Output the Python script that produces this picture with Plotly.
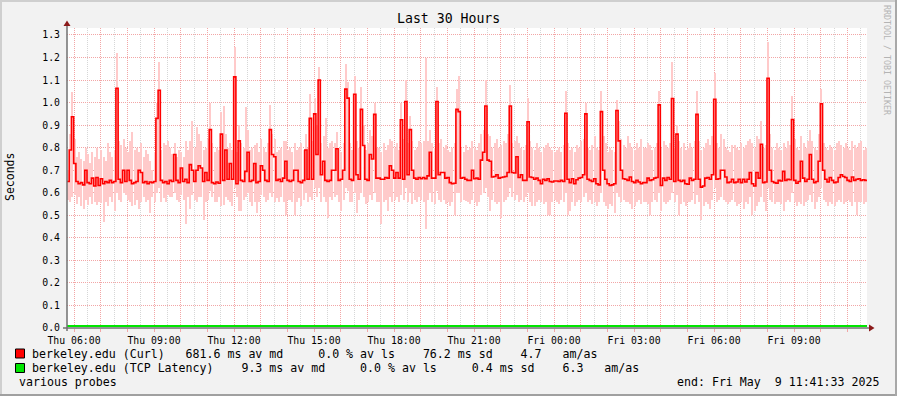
import pandas as pd
import plotly.graph_objects as go

# ---------------- data ----------------
start_time = "2025-05-08 05:44:15"
span_hours = 30
step = "5min"

# berkeley.edu (Curl) median, ms  (5-minute steps)
curl_median_ms = [
    650, 790, 937, 730, 650, 640, 645, 635, 700, 645, 640, 665, 630, 668, 632, 662, 640, 650, 645, 655,
    645, 650, 1063, 660, 645, 700, 650, 700, 655, 640, 645, 650, 700, 690, 645, 650, 640, 648, 645, 650,
    930, 1055, 655, 645, 650, 640, 655, 650, 770, 655, 645, 710, 650, 660, 645, 725, 700, 650, 700, 720,
    710, 650, 690, 655, 880, 645, 640, 648, 642, 860, 655, 790, 660, 730, 660, 1114, 640, 830, 655, 650,
    695, 780, 650, 655, 730, 645, 650, 720, 700, 655, 650, 880, 770, 760, 655, 660, 650, 665, 740, 655,
    650, 655, 700, 700, 650, 645, 655, 790, 660, 930, 660, 950, 770, 1100, 680, 740, 655, 650, 655, 700,
    700, 795, 655, 660, 700, 1060, 1020, 660, 655, 1037, 680, 660, 970, 810, 660, 655, 770, 750, 948, 665,
    665, 660, 660, 668, 665, 720, 700, 665, 690, 665, 924, 660, 1005, 680, 880, 700, 665, 660, 668, 662,
    668, 662, 675, 780, 665, 665, 1005, 680, 690, 690, 665, 668, 645, 640, 642, 970, 960, 665, 668, 660,
    655, 655, 700, 662, 665, 660, 745, 780, 985, 745, 740, 670, 672, 680, 665, 668, 670, 672, 690, 985,
    690, 688, 760, 668, 680, 655, 655, 915, 670, 668, 660, 665, 655, 640, 660, 655, 662, 650, 648, 652,
    652, 650, 655, 650, 953, 660, 645, 662, 640, 658, 665, 668, 680, 950, 660, 655, 650, 662, 640, 635,
    960, 700, 660, 640, 632, 635, 640, 965, 830, 700, 662, 660, 655, 670, 650, 645, 655, 648, 640, 645,
    645, 665, 655, 658, 665, 668, 990, 632, 665, 655, 668, 660, 1018, 650, 860, 655, 650, 655, 640, 638,
    665, 655, 660, 948, 660, 625, 630, 665, 668, 660, 680, 1015, 660, 662, 700, 700, 670, 645, 648, 660,
    645, 648, 660, 645, 660, 648, 660, 690, 640, 630, 690, 665, 815, 645, 648, 1108, 700, 650, 645, 642,
    655, 652, 695, 655, 660, 658, 925, 655, 642, 650, 740, 665, 650, 660, 770, 660, 645, 650, 740, 995,
    700, 660, 648, 668, 655, 645, 648, 668, 680, 672, 668, 655, 650, 670, 655, 660, 662, 655, 658, 655,
]

# smoke band (upper / lower edge), ms
curl_hi_ms = [
    700, 860, 1045, 840, 760, 780, 750, 740, 800, 770, 730, 780, 760, 800, 750, 790, 760, 740, 820, 780,
    760, 790, 1220, 830, 810, 840, 800, 780, 830, 870, 790, 800, 780, 820, 760, 790, 770, 740, 700, 780,
    1000, 1180, 790, 820, 810, 830, 800, 770, 820, 760, 790, 780, 760, 830, 790, 830, 920, 800, 890, 860,
    830, 790, 800, 840, 1000, 820, 780, 800, 790, 960, 985, 860, 800, 820, 790, 1245, 780, 900, 820, 800,
    980, 880, 790, 800, 810, 820, 780, 840, 800, 780, 820, 990, 860, 840, 780, 790, 800, 830, 830, 790,
    800, 780, 820, 790, 800, 820, 790, 860, 800, 1040, 830, 1020, 900, 1160, 820, 850, 930, 800, 820, 830,
    820, 870, 800, 780, 820, 1170, 1090, 820, 790, 1120, 830, 800, 1070, 900, 790, 820, 880, 850, 1000, 800,
    800, 780, 820, 790, 810, 840, 830, 800, 820, 790, 1000, 840, 1100, 820, 940, 830, 790, 800, 830, 820,
    830, 1200, 830, 880, 820, 800, 1070, 820, 840, 800, 810, 790, 780, 800, 820, 1060, 1120, 800, 780, 810,
    790, 800, 830, 800, 790, 820, 860, 880, 1100, 860, 850, 800, 820, 840, 800, 810, 830, 820, 860, 1080,
    820, 830, 850, 820, 800, 790, 810, 1020, 830, 800, 790, 820, 800, 780, 800, 810, 820, 800, 790, 780,
    790, 800, 780, 810, 1050, 820, 790, 800, 780, 810, 800, 830, 840, 1000, 800, 790, 810, 850, 800, 790,
    1050, 850, 820, 780, 800, 790, 780, 1010, 920, 840, 810, 800, 850, 820, 800, 790, 820, 800, 840, 800,
    800, 820, 810, 790, 800, 820, 1050, 800, 830, 810, 800, 820, 1180, 800, 900, 830, 800, 820, 790, 800,
    820, 800, 830, 1050, 830, 790, 800, 820, 840, 810, 850, 1130, 820, 800, 860, 840, 800, 790, 780, 810,
    810, 800, 790, 820, 800, 810, 830, 840, 820, 800, 850, 840, 920, 800, 810, 1268, 860, 800, 790, 820,
    800, 790, 820, 800, 830, 810, 1030, 840, 800, 790, 850, 820, 800, 830, 880, 830, 800, 790, 860, 1060,
    820, 800, 790, 810, 800, 790, 820, 830, 810, 800, 820, 800, 790, 830, 810, 800, 820, 830, 790, 800,
]
curl_lo_ms = [
    570, 560, 580, 590, 550, 580, 540, 530, 570, 545, 580, 550, 560, 545, 560, 555, 470, 560, 540, 580,
    560, 520, 600, 570, 560, 600, 590, 570, 560, 540, 545, 570, 530, 560, 580, 560, 570, 510, 580, 560,
    600, 620, 560, 575, 560, 590, 580, 580, 600, 570, 560, 590, 570, 460, 580, 530, 590, 570, 560, 580,
    580, 480, 560, 570, 610, 580, 560, 560, 580, 540, 545, 580, 570, 560, 540, 620, 580, 520, 520, 570,
    580, 600, 560, 540, 560, 510, 560, 590, 580, 560, 570, 600, 580, 560, 575, 560, 580, 560, 500, 570,
    570, 560, 500, 560, 575, 540, 570, 600, 560, 580, 570, 620, 580, 620, 560, 580, 560, 490, 580, 570,
    580, 590, 560, 520, 570, 620, 610, 560, 560, 600, 510, 570, 600, 580, 550, 560, 590, 570, 600, 560,
    560, 460, 560, 570, 520, 580, 560, 570, 580, 560, 590, 570, 620, 560, 600, 550, 570, 560, 580, 570,
    560, 440, 570, 600, 560, 550, 610, 570, 560, 570, 550, 560, 540, 560, 500, 600, 600, 560, 570, 565,
    560, 550, 570, 560, 540, 560, 590, 600, 620, 580, 520, 570, 560, 550, 560, 490, 560, 570, 580, 620,
    580, 570, 590, 560, 570, 560, 580, 600, 560, 540, 540, 560, 570, 560, 550, 560, 500, 500, 560, 570,
    560, 550, 570, 560, 600, 500, 520, 560, 540, 560, 570, 560, 580, 600, 560, 570, 550, 560, 540, 560,
    600, 560, 540, 530, 550, 540, 510, 600, 580, 560, 570, 560, 560, 550, 530, 540, 560, 570, 550, 560,
    560, 550, 500, 560, 570, 560, 600, 520, 560, 550, 560, 570, 600, 560, 590, 500, 550, 560, 540, 560,
    560, 570, 550, 590, 560, 480, 540, 560, 550, 530, 570, 620, 560, 570, 580, 570, 560, 550, 560, 570,
    560, 540, 550, 560, 530, 560, 550, 580, 500, 520, 540, 560, 580, 560, 520, 620, 570, 560, 550, 560,
    560, 550, 520, 560, 570, 560, 600, 560, 540, 560, 550, 540, 560, 570, 590, 560, 530, 560, 580, 620,
    570, 560, 540, 560, 550, 540, 560, 570, 560, 550, 560, 570, 560, 540, 560, 500, 560, 560, 550, 560,
]

# berkeley.edu (TCP Latency), ms, hourly
tcp_ms = [9.3, 9.2, 9.3, 9.4, 9.3, 9.3, 9.2, 9.3, 9.4, 9.3, 9.3, 9.2, 9.3, 9.3, 9.4, 9.3,
          9.2, 9.3, 9.3, 9.3, 9.4, 9.3, 9.2, 9.3, 9.3, 9.3, 9.4, 9.3, 9.2, 9.3, 9.3]

tick_times = ["2025-05-08 06:00", "2025-05-08 09:00", "2025-05-08 12:00", "2025-05-08 15:00",
              "2025-05-08 18:00", "2025-05-08 21:00", "2025-05-09 00:00", "2025-05-09 03:00",
              "2025-05-09 06:00", "2025-05-09 09:00"]
tick_labels = ["Thu 06:00", "Thu 09:00", "Thu 12:00", "Thu 15:00", "Thu 18:00",
               "Thu 21:00", "Fri 00:00", "Fri 03:00", "Fri 06:00", "Fri 09:00"]

legend_rows = [
    ("berkeley.edu (Curl)   681.6 ms av md     0.0 % av ls    76.2 ms sd    4.7   am/as", "#FF0000"),
    ("berkeley.edu (TCP Latency)    9.3 ms av md     0.0 % av ls     0.4 ms sd    6.3   am/as", "#00E600"),
]
footer_left = "various probes"
footer_right = "end: Fri May  9 11:41:33 2025"
title_text = "Last 30 Hours"
y_title = "Seconds"
side_text = "RRDTOOL / TOBI OETIKER"

assert len(curl_median_ms) == len(curl_hi_ms) == len(curl_lo_ms), (
    len(curl_median_ms), len(curl_hi_ms), len(curl_lo_ms))

# ---------------- figure ----------------
W, H = 897, 396
L, R, T, B = 67, 30, 28, 68
PW, PH = W - L - R, H - T - B
MONO = "DejaVu Sans Mono"


def px(x):
    return (x - L) / PW


def py(y):
    return (H - B - y) / PH


t0 = pd.Timestamp(start_time)
t_end = t0 + pd.Timedelta(hours=span_hours)
times = pd.date_range(t0, periods=len(curl_median_ms), freq=step)
half = pd.Timedelta(step) / 2

med_s = [v / 1000 for v in curl_median_ms]
lo_s = [v / 1000 for v in curl_lo_ms]
band_s = [(h - l) / 1000 for h, l in zip(curl_hi_ms, curl_lo_ms)]

fig = go.Figure()

fig.add_trace(go.Bar(
    x=times + half, y=band_s, base=lo_s,
    width=pd.Timedelta(step).total_seconds() * 1000 * 0.55,
    marker=dict(color="#FFCACA", line=dict(width=0)),
    hoverinfo="skip", showlegend=False,
))

fig.add_trace(go.Scatter(
    x=list(times) + [t_end], y=med_s + [med_s[-1]],
    mode="lines", line=dict(color="#FF0000", width=1.6, shape="hv"),
    showlegend=False,
))

tcp_times = pd.date_range(t0, periods=len(tcp_ms), freq="1h")
fig.add_trace(go.Scatter(
    x=tcp_times, y=[v / 1000 for v in tcp_ms],
    mode="lines", line=dict(color="#00E600", width=2, shape="hv"),
    showlegend=False,
))

grid_major = "#F2A6A6"
grid_minor = "#D6D6D6"

hour_ticks = pd.date_range(pd.Timestamp(tick_times[0]), t_end, freq="1h")
label_map = dict(zip([pd.Timestamp(t) for t in tick_times], tick_labels))
hour_text = [label_map.get(t, "") for t in hour_ticks]

fig.update_layout(
    width=W, height=H,
    margin=dict(l=L, r=R, t=T, b=B, pad=0),
    paper_bgcolor="#F2F2F2", plot_bgcolor="#FFFFFF",
    bargap=0, barmode="overlay",
    showlegend=False,
    font=dict(family=MONO, size=10, color="#000000"),
    xaxis=dict(
        type="date", range=[t0, t_end],
        tickmode="array", tickvals=list(hour_ticks), ticktext=hour_text,
        showgrid=True, gridcolor=grid_major, griddash="1px,1px", gridwidth=1,
        ticks="outside", ticklen=3, tickcolor=grid_major,
        tickfont=dict(family=MONO, size=9.8, color="#000000"),
        showline=False, zeroline=False,
        minor=dict(showgrid=True, gridcolor=grid_minor, griddash="1px,1px",
                   tickmode="linear", dtick=1800000, tick0="2025-05-08 05:30"),
    ),
    yaxis=dict(
        range=[0, 1.331], tickmode="linear", tick0=0, dtick=0.1, tickformat=".1f",
        showgrid=True, gridcolor=grid_major, griddash="1px,1px", gridwidth=1,
        ticks="outside", ticklen=4, tickcolor="rgba(0,0,0,0)",
        tickfont=dict(family=MONO, size=9.8, color="#000000"),
        showline=False, zeroline=False,
    ),
)

shapes = []
# 3D frame
xl, xr, yt, yb = px(0), px(W), py(0), py(H)
shapes += [
    dict(type="rect", xref="paper", yref="paper", x0=xl, x1=xr, y0=py(2), y1=yt,
         fillcolor="#CFCFCF", line=dict(width=0), layer="below"),
    dict(type="rect", xref="paper", yref="paper", x0=xl, x1=px(2), y0=yb, y1=yt,
         fillcolor="#CFCFCF", line=dict(width=0), layer="below"),
    dict(type="rect", xref="paper", yref="paper", x0=xl, x1=xr, y0=yb, y1=py(H - 2),
         fillcolor="#A0A0A0", line=dict(width=0), layer="below"),
    dict(type="rect", xref="paper", yref="paper", x0=px(W - 2), x1=xr, y0=yb, y1=yt,
         fillcolor="#A8A8A8", line=dict(width=0), layer="below"),
]
# axes with arrows
axis_col = "#707070"
arrow_col = "#8B1A1A"
shapes += [
    dict(type="line", xref="paper", yref="paper", x0=0, x1=0, y0=py(331), y1=py(24),
         line=dict(color=axis_col, width=1.5)),
    dict(type="line", xref="paper", yref="paper", x0=px(63), x1=px(870), y0=0, y1=0,
         line=dict(color=axis_col, width=1.5)),
    dict(type="path", xref="paper", yref="paper",
         path=f"M {px(63.5)} {py(26)} L {px(70.5)} {py(26)} L {px(67)} {py(20.5)} Z",
         fillcolor=arrow_col, line=dict(width=0)),
    dict(type="path", xref="paper", yref="paper",
         path=f"M {px(869)} {py(324.5)} L {px(869)} {py(331.5)} L {px(874.5)} {py(328)} Z",
         fillcolor=arrow_col, line=dict(width=0)),
]
# legend squares
for k, (_, col) in enumerate(legend_rows):
    yc = 353.5 + 14.5 * k
    shapes.append(dict(type="rect", xref="paper", yref="paper",
                       x0=px(15.5), x1=px(24.5), y0=py(yc + 4.5), y1=py(yc - 4.5),
                       fillcolor=col, line=dict(color="#000000", width=1)))

annotations = [
    dict(text=title_text, xref="paper", yref="paper", x=px(448), y=py(19),
         xanchor="center", yanchor="middle", showarrow=False,
         font=dict(family=MONO, size=13.2, color="#000000")),
    dict(text=y_title, xref="paper", yref="paper", x=px(10), y=py(177),
         xanchor="center", yanchor="middle", showarrow=False, textangle=-90,
         font=dict(family=MONO, size=11.5, color="#000000")),
    dict(text=side_text, xref="paper", yref="paper", x=px(887), y=py(60),
         xanchor="center", yanchor="middle", showarrow=False, textangle=90,
         font=dict(family=MONO, size=8.3, color="#B4B4B4")),
    dict(text=footer_left, xref="paper", yref="paper", x=px(16.5), y=py(382),
         xanchor="left", yanchor="middle", showarrow=False,
         font=dict(family=MONO, size=11.6, color="#000000")),
    dict(text=footer_right, xref="paper", yref="paper", x=px(880.5), y=py(382),
         xanchor="right", yanchor="middle", showarrow=False,
         font=dict(family=MONO, size=11.6, color="#000000")),
]
for k, (txt, _) in enumerate(legend_rows):
    annotations.append(dict(
        text=txt.replace(" ", "&nbsp;"), xref="paper", yref="paper", x=px(30), y=py(353.5 + 14.5 * k),
        xanchor="left", yanchor="middle", showarrow=False,
        font=dict(family=MONO, size=11.6, color="#000000")))

fig.update_layout(shapes=shapes, annotations=annotations)
fig.write_html("out.html", config={"displayModeBar": False},
               post_script="document.body.style.margin='0px';document.body.style.overflow='hidden';")
